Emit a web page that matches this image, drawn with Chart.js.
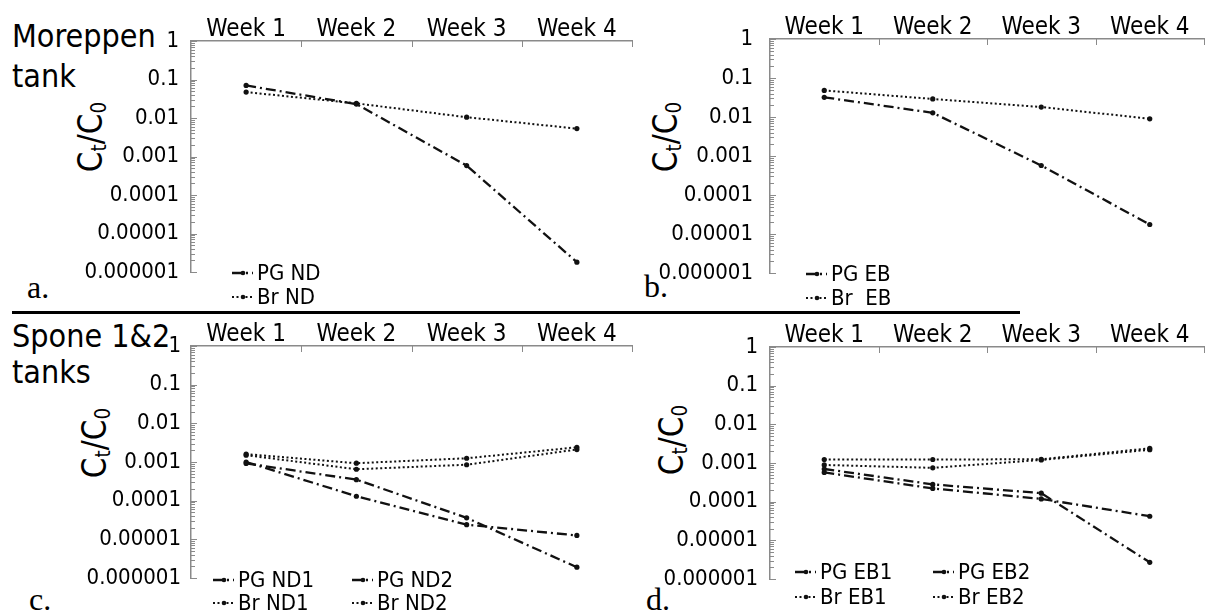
<!DOCTYPE html>
<html>
<head>
<meta charset="utf-8">
<script src="https://cdn.jsdelivr.net/npm/chart.js@4.4.1/dist/chart.umd.min.js"></script>
<style>
body{margin:0;background:#fff;}
#page{position:relative;width:1208px;height:615px;overflow:hidden;font-family:'DejaVu Sans Condensed','Liberation Sans',sans-serif;color:#000;}
.box{position:absolute;}
.lbl{position:absolute;line-height:1;white-space:nowrap;font-size:32px;}
.tag{position:absolute;line-height:1;font-family:'Liberation Serif',serif;font-size:32px;}
.ytl{position:absolute;line-height:1;font-size:33px;white-space:nowrap;transform:translate(-50%,-50%) rotate(-90deg);}
.ytl sub{font-size:0.62em;vertical-align:-0.2em;}
#rule{position:absolute;left:12px;top:311px;width:1008px;height:3px;background:#000;}
</style>
</head>
<body>
<div id="page">
  <div class="lbl" style="left:12px;top:20px">Moreppen</div>
  <div class="lbl" style="left:12px;top:60px">tank</div>
  <div class="lbl" style="left:12px;top:320px">Spone 1&amp;2</div>
  <div class="lbl" style="left:12px;top:356px">tanks</div>
  <div class="tag" style="left:27px;top:271px">a.</div>
  <div class="tag" style="left:644px;top:270px">b.</div>
  <div class="tag" style="left:29px;top:583px">c.</div>
  <div class="tag" style="left:646px;top:583px">d.</div>
  <div class="ytl" style="left:92px;top:137px">C<sub>t</sub>/C<sub>0</sub></div>
  <div class="ytl" style="left:667px;top:137px">C<sub>t</sub>/C<sub>0</sub></div>
  <div class="ytl" style="left:96px;top:443px">C<sub>t</sub>/C<sub>0</sub></div>
  <div class="ytl" style="left:673px;top:440px">C<sub>t</sub>/C<sub>0</sub></div>
  <div id="rule"></div>
  <div class="box" style="left:0;top:0;width:640px;height:310px"><canvas id="cA"></canvas></div>
  <div class="box" style="left:600px;top:0;width:608px;height:310px"><canvas id="cB"></canvas></div>
  <div class="box" style="left:0;top:312px;width:640px;height:303px"><canvas id="cC"></canvas></div>
  <div class="box" style="left:600px;top:312px;width:608px;height:303px"><canvas id="cD"></canvas></div>
</div>
<script>
// Ct/C0 over four weeks
var WEEKS = ['Week 1', 'Week 2', 'Week 3', 'Week 4'];
var Y_LABELS = ['1', '0.1', '0.01', '0.001', '0.0001', '0.00001', '0.000001'];
var Y_TICKS = Y_LABELS.map(Number);

// Moreppen tank
var pgND = [0.07, 0.023, 0.00058, 0.0000018];
var brND = [0.047, 0.024, 0.0105, 0.0053];
var pgEB = [0.032, 0.0128, 0.00057, 0.0000175];
var brEB = [0.048, 0.029, 0.018, 0.009];

// Spone 1&2 tanks
var pgND1 = [0.00092, 0.00035, 0.000036, 0.0000019];
var pgND2 = [0.001, 0.00013, 0.000024, 0.0000126];
var brND1 = [0.0016, 0.00093, 0.00125, 0.0024];
var brND2 = [0.0015, 0.00065, 0.00085, 0.0021];
var pgEB1 = [0.0007, 0.00028, 0.000166, 0.0000027];
var pgEB2 = [0.00057, 0.00022, 0.000118, 0.000042];
var brEB1 = [0.00123, 0.00123, 0.00125, 0.0024];
var brEB2 = [0.00089, 0.00075, 0.0012, 0.0022];

var FONT = "'DejaVu Sans Condensed', 'Liberation Sans', sans-serif";
var INK = '#111', AXIS = '#8a8a8a';
var STYLE = {
  pg: {dash: [10, 4, 2, 4], w: 2.3},
  br: {dash: [2, 2.5], w: 2}
};

// tick marks drawn on the inner side of both axes
var innerTicks = {
  id: 'innerTicks',
  afterDraw: function(chart){
    var ctx = chart.ctx, a = chart.chartArea, x = chart.scales.x, y = chart.scales.y;
    ctx.save();
    ctx.strokeStyle = AXIS; ctx.lineWidth = 1;
    ctx.beginPath();
    for (var e = -6; e <= 0; e++) {
      for (var k = 1; k <= 9; k++) {
        var v = k * Math.pow(10, e);
        if (v > y.max * 1.0001) break;
        var py = Math.round(y.getPixelForValue(v)) + 0.5;
        ctx.moveTo(a.left, py); ctx.lineTo(a.left + (k === 1 ? 6 : 4), py);
      }
    }
    for (var i = 0; i < WEEKS.length; i++) {
      var px = Math.round(x.getPixelForValue(i + 0.5)) + 0.5;
      ctx.moveTo(px, a.top); ctx.lineTo(px, a.top + 6);
    }
    ctx.stroke();
    ctx.restore();
  }
};

// key drawn under the plot area, in rows and columns
var keyBox = {
  id: 'keyBox',
  afterDraw: function(chart, args, o){
    var ctx = chart.ctx, a = chart.chartArea;
    var sets = chart.data.datasets;
    ctx.save();
    ctx.font = '22px ' + FONT;
    ctx.textBaseline = 'middle';
    sets.forEach(function(ds, i){
      var col = i % o.cols, row = Math.floor(i / o.cols);
      var x0 = a.left + o.dx + col * o.colW;
      var yy = a.bottom + o.dy + row * o.rowH;
      ctx.strokeStyle = INK; ctx.lineWidth = ds.borderWidth;
      ctx.setLineDash(ds.borderDash);
      ctx.beginPath(); ctx.moveTo(x0, yy); ctx.lineTo(x0 + 21, yy); ctx.stroke();
      ctx.setLineDash([]);
      ctx.beginPath(); ctx.arc(x0 + 11, yy, 2.3, 0, Math.PI * 2); ctx.fillStyle = INK; ctx.fill();
      ctx.fillStyle = '#000';
      ctx.fillText(ds.label, x0 + 25, yy + 1);
    });
    ctx.restore();
  }
};

function line(label, data, kind){
  var s = STYLE[kind];
  return {
    label: label, data: data,
    borderColor: INK, borderWidth: s.w, borderDash: s.dash,
    pointRadius: 2.6, pointStyle: 'circle', pointBackgroundColor: INK, pointBorderWidth: 0,
    fill: false, tension: 0
  };
}

function panel(id, sets, g, key){
  return new Chart(document.getElementById(id), {
    type: 'line',
    data: {labels: WEEKS, datasets: sets},
    plugins: [innerTicks, keyBox],
    options: {
      responsive: true, maintainAspectRatio: false, animation: false,
      layout: {padding: {left: 0, top: 0, right: g.right, bottom: g.bottom}},
      plugins: {legend: {display: false}, tooltip: {enabled: false}, keyBox: key},
      scales: {
        x: {
          type: 'category', position: 'top', offset: true,
          grid: {display: true, drawOnChartArea: false, drawTicks: false},
          border: {display: true, color: AXIS, width: 1.5},
          ticks: {color: '#000', font: {family: FONT, size: 24}, padding: g.xpad, maxRotation: 0, autoSkip: false},
          afterFit: function(s){ s.height = g.top; }
        },
        y: {
          type: 'logarithmic', min: Y_TICKS[Y_TICKS.length - 1], max: Y_TICKS[0],
          grid: {display: true, drawOnChartArea: false, drawTicks: false},
          border: {display: true, color: AXIS, width: 1.5},
          afterBuildTicks: function(s){ s.ticks = Y_TICKS.map(function(v){ return {value: v}; }); },
          ticks: {
            color: '#000', font: {family: FONT, size: 22}, padding: g.ypad, autoSkip: false,
            callback: function(v){ var i = Y_TICKS.indexOf(v); return i < 0 ? '' : Y_LABELS[i]; }
          },
          afterFit: function(s){ s.width = g.left; }
        }
      }
    }
  });
}

panel('cA', [line('PG ND', pgND, 'pg'), line('Br ND', brND, 'br')],
  {left: 191, right: 8, top: 41, bottom: 38, xpad: -3, ypad: 12},
  {dx: 41, dy: 1, rowH: 24, colW: 0, cols: 1});
panel('cB', [line('PG EB', pgEB, 'pg'), line('Br  EB', brEB, 'br')],
  {left: 170, right: 0, top: 39, bottom: 37, xpad: -3, ypad: 17},
  {dx: 36, dy: 1, rowH: 24, colW: 0, cols: 1});
panel('cC', [line('PG ND1', pgND1, 'pg'), line('PG ND2', pgND2, 'pg'), line('Br ND1', brND1, 'br'), line('Br ND2', brND2, 'br')],
  {left: 191, right: 8, top: 34, bottom: 37, xpad: -3, ypad: 10},
  {dx: 22, dy: 2, rowH: 23, colW: 139, cols: 2});
panel('cD', [line('PG EB1', pgEB1, 'pg'), line('PG EB2', pgEB2, 'pg'), line('Br EB1', brEB1, 'br'), line('Br EB2', brEB2, 'br')],
  {left: 170, right: 0, top: 35, bottom: 36, xpad: -3, ypad: 12},
  {dx: 25, dy: -7, rowH: 25, colW: 138, cols: 2});
</script>
</body>
</html>
